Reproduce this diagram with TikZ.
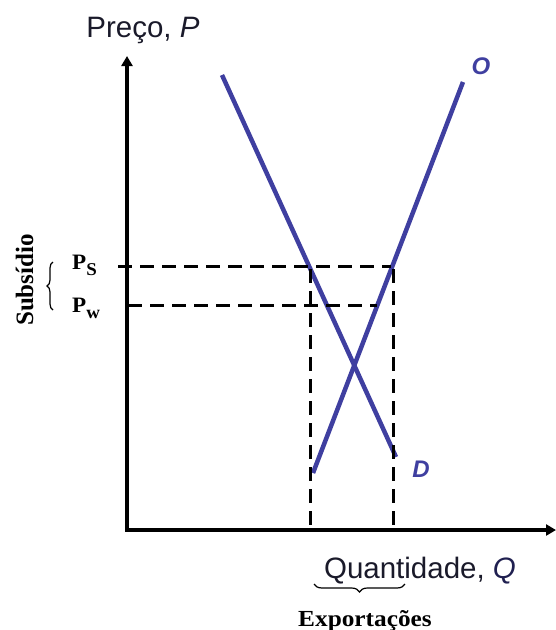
\documentclass[tikz,border=0pt]{standalone}
\usepackage{fontspec}
\setmainfont{Liberation Serif}
\setsansfont{Liberation Sans}
\usetikzlibrary{arrows.meta,decorations.pathreplacing}
\definecolor{curve}{HTML}{3F3FA0}
\definecolor{txt}{HTML}{1A1A2A}
\definecolor{navy}{HTML}{202050}
\newcommand{\pricelab}[1]{\scalebox{1.05}[1]{P\raisebox{-6.5pt}{\fontsize{18}{20}\selectfont #1}}}
\begin{document}
\begin{tikzpicture}[x=1pt,y=-1pt,
  axis/.style={line width=4pt,-{Triangle[length=10pt,width=11pt]}},
  curveline/.style={line width=4.5pt,color=curve},
  guide/.style={line width=3pt,dash pattern=on 14pt off 8pt},
  sanslab/.style={font=\sffamily\fontsize{29.5}{32}\selectfont,text=txt,inner sep=0pt,anchor=base},
  seriflab/.style={font=\bfseries\fontsize{22}{26}\selectfont,text=black,inner sep=0pt},
  curvelab/.style={font=\sffamily\bfseries\itshape\fontsize{24}{28}\selectfont,text=curve,inner sep=0pt},
  bracestyle/.style={line width=1.2pt,decorate}]
\useasboundingbox (0,0) rectangle (556,630);
% axes
\coordinate (orig) at (127,530);
\coordinate (ytop) at (127,56);
\coordinate (xend) at (556,530);
\draw[axis] (orig) -- (ytop);
\draw[axis] (orig) -- (xend);
\fill (125,528) rectangle (129,532);
% curves
\coordinate (s1) at (313,473);
\coordinate (s2) at (463,82);
\coordinate (d1) at (222,75);
\coordinate (d2) at (396,457);
\draw[curveline] (s1) -- (s2);
\draw[curveline] (d1) -- (d2);
\node[curvelab] (olab) at (481,66) {O};
\node[curvelab] (dlab) at (421,469) {D};
% guide lines
\coordinate (psL) at (118,266);
\coordinate (psR) at (391,266);
\coordinate (pwL) at (128,305);
\coordinate (pwR) at (377,305);
\coordinate (vA) at (310,269);
\coordinate (vAb) at (310,530);
\coordinate (vB) at (393,269);
\coordinate (vBb) at (393,530);
\draw[guide] (psL) -- (psR);
\draw[guide] (pwL) -- (pwR);
\draw[guide] (vA) -- (vAb);
\draw[guide] (vB) -- (vBb);
% labels
\node[sanslab] (ptitle) at (143,37) {Preço, \textit{P}};
\node[sanslab] (qtitle) at (420,578) {Quantidade, \textcolor{navy}{\textit{Q}}};
\node[seriflab,anchor=base west] (ps) at (72,269) {\pricelab{S}};
\node[seriflab,anchor=base west] (pw) at (72,312) {\pricelab{w}};
\node[seriflab,rotate=90,anchor=base,font=\bfseries\fontsize{25}{28}\selectfont] (sub) at (33,280) {Subsídio};
\node[seriflab,anchor=base,font=\bfseries\fontsize{23}{26}\selectfont] (exp) at (365,626) {\scalebox{1.1}[1]{Exportações}};
% braces
\coordinate (b1) at (53,262);
\coordinate (b2) at (53,310);
\draw[bracestyle,decoration={brace,amplitude=6pt}] (b2) -- (b1);
\coordinate (c1) at (314,584);
\coordinate (c2) at (405,584);
\draw[bracestyle,decoration={brace,amplitude=8pt,mirror}] (c1) -- (c2);
\end{tikzpicture}
\end{document}
